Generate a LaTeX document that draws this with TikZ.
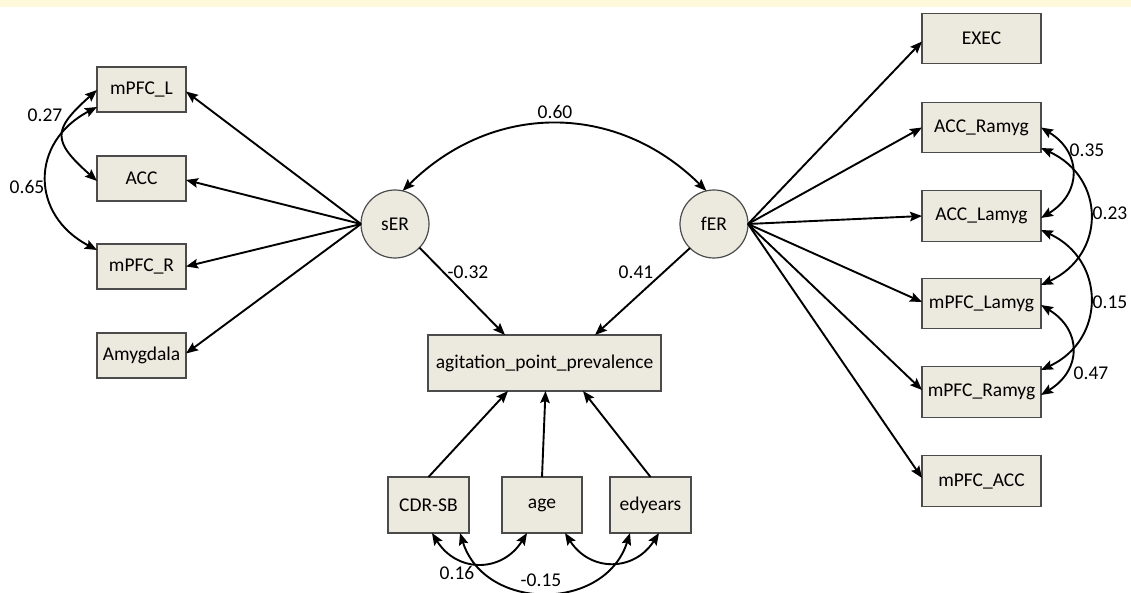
\documentclass[tikz,border=0pt]{standalone}
\usepackage{fontspec}
\setmainfont{Carlito}
\usetikzlibrary{arrows.meta}
\definecolor{boxfill}{RGB}{236,233,222}
\definecolor{boxline}{RGB}{75,75,75}
\definecolor{band}{RGB}{255,249,220}
\tikzset{
  txt/.style={font=\fontsize{19.5}{23}\selectfont},
  obs/.style={txt, draw=boxline, line width=1.2pt, fill=boxfill, inner sep=0pt, outer sep=0pt},
  lat/.style={txt, circle, draw=boxline, line width=1.2pt, fill=boxfill, inner sep=0pt, outer sep=0pt, minimum size=68pt},
  lbl/.style={txt, inner sep=0pt},
  tip/.style={},
  path/.style={line width=1.9pt, -{Stealth[length=12pt,width=9.5pt,inset=2pt]}},
  cov/.style={line width=1.9pt, {Stealth[length=12pt,width=9.5pt,inset=2pt]}-{Stealth[length=12pt,width=9.5pt,inset=2pt]}},
  lbox/.style={obs, minimum width=89pt, minimum height=45pt},
  rbox/.style={obs, minimum width=119pt, minimum height=50.5pt},
  bbox/.style={obs, minimum width=81pt, minimum height=56pt}
}
\begin{document}
\begin{tikzpicture}[x=1pt,y=-1pt]
\useasboundingbox (0,0) rectangle (1131,593);
\fill[band] (0,0) rectangle (1131,7);
% latent
\node[lat] (sER) at (395,224) {sER};
\node[lat] (fER) at (714,224) {fER};
% left indicators
\node[lbox] (mPFCL) at (141.5,89.5) {mPFC\_L};
\node[lbox] (ACC) at (141.5,178.5) {ACC};
\node[lbox] (mPFCR) at (141.5,266.5) {mPFC\_R};
\node[lbox] (Amy) at (141.5,355.5) {Amygdala};
% right indicators
\node[rbox] (EXEC) at (981.5,38.5) {EXEC};
\node[rbox] (ACCR) at (981.5,127.5) {ACC\_Ramyg};
\node[rbox] (ACCL) at (981.5,216) {ACC\_Lamyg};
\node[rbox] (mPFCLa) at (981.5,303.5) {mPFC\_Lamyg};
\node[rbox] (mPFCRa) at (981.5,392) {mPFC\_Ramyg};
\node[rbox] (mPFCACC) at (981.5,481) {mPFC\_ACC};
% outcome and covariates
\node[obs, minimum width=233pt, minimum height=56pt] (agit) at (544.5,363) {agitation\_point\_prevalence};
\node[bbox] (cdr) at (428.5,505) {CDR-SB};
\node[obs, minimum width=80pt, minimum height=56pt] (age) at (542,505) {age};
\node[bbox] (edy) at (650.5,505) {edyears};
% loadings sER
\draw[path] (sER.west) -- ([yshift=-2pt]mPFCL.east);
\draw[path] (sER.west) -- ([yshift=-1.5pt]ACC.east);
\draw[path] (sER.west) -- (mPFCR.east);
\draw[path] (sER.west) -- ([yshift=2pt]Amy.east);
% loadings fER
\draw[path] (fER.east) -- ([yshift=-3pt]EXEC.west);
\draw[path] (fER.east) -- (ACCR.west);
\draw[path] (fER.east) -- (ACCL.west);
\draw[path] (fER.east) -- ([yshift=1.5pt]mPFCLa.west);
\draw[path] (fER.east) -- ([yshift=2pt]mPFCRa.west);
\draw[path] (fER.east) -- ([yshift=3pt]mPFCACC.west);
% structural paths
\draw[path] (sER.-44) -- ([xshift=-39.5pt]agit.north);
\draw[path] (fER.-135) -- ([xshift=50.5pt]agit.north);
\draw[path] (cdr.north) -- ([xshift=-36.5pt]agit.south);
\draw[path] (age.north) -- ([xshift=1pt]agit.south);
\draw[path] (edy.north) -- ([xshift=38.5pt]agit.south);
% covariance latent
\draw[cov] (sER.77) .. controls +(90,-89) and +(-90,-89) .. (fER.103);
% left covariances
\draw[cov] ([yshift=-0.5pt]mPFCL.west) .. controls +(-45,40) and +(-45,-40) .. ([yshift=-2.5pt]ACC.west);
\draw[cov] ([yshift=-17.5pt]mPFCL.west) .. controls +(-67,35) and +(-67,-35) .. ([yshift=16.5pt]mPFCR.west);
% right covariances
\draw[cov] (ACCR.east) .. controls +(41,25) and +(41,-25) .. ([yshift=-2pt]ACCL.east);
\draw[cov] ([yshift=-20.5pt]ACCR.east) .. controls +(65,30) and +(65,-30) .. ([yshift=18.5pt]mPFCLa.east);
\draw[cov] ([yshift=-14pt]ACCL.east) .. controls +(65,30) and +(65,-30) .. ([yshift=22pt]mPFCRa.east);
\draw[cov] ([yshift=-1.5pt]mPFCLa.east) .. controls +(41,25) and +(41,-25) .. ([yshift=-3pt]mPFCRa.east);
% bottom covariances
\draw[cov] ([xshift=3.5pt]cdr.south) .. controls +(25,40) and +(-25,40) .. ([xshift=-15pt]age.south);
\draw[cov] ([xshift=31.5pt]cdr.south) .. controls +(25,79) and +(-25,79) .. ([xshift=-20.5pt]edy.south);
\draw[cov] ([xshift=23pt]age.south) .. controls +(25,39) and +(-25,39) .. ([xshift=8.5pt]edy.south);
% labels
\node[lbl] (l060) at (555,112) {0.60};
\node[lbl] (l032) at (468,272) {-0.32};
\node[lbl] (l041) at (636,272) {0.41};
\node[lbl] (l027) at (45,115) {0.27};
\node[lbl] (l065) at (27,187) {0.65};
\node[lbl] (l035) at (1087,150) {0.35};
\node[lbl] (l023) at (1110,213) {0.23};
\node[lbl] (l015) at (1110,302) {0.15};
\node[lbl] (l047) at (1091,373) {0.47};
\node[lbl] (l016) at (457,573) {0.16};
\node[lbl] (l015b) at (541,580) {-0.15};
\end{tikzpicture}
\end{document}
